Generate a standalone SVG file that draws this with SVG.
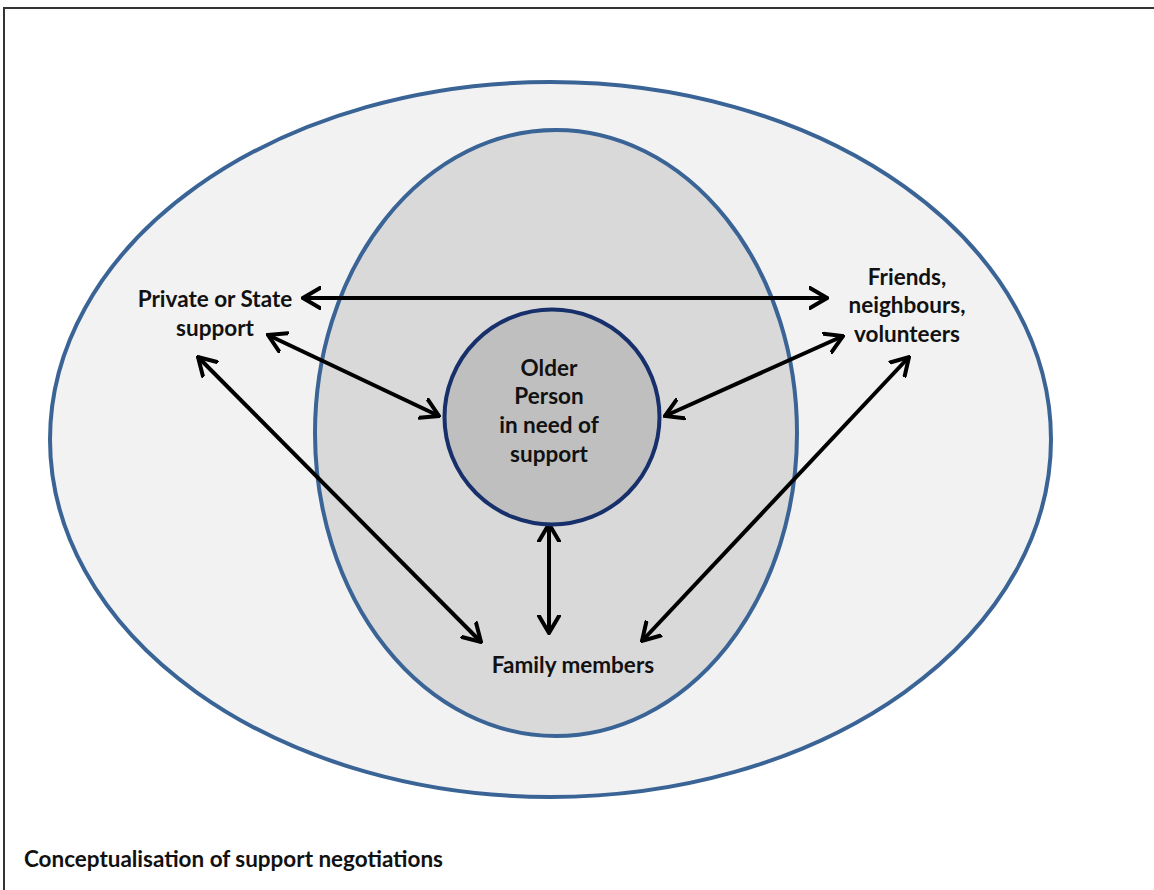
<svg xmlns="http://www.w3.org/2000/svg" width="1154" height="890" viewBox="0 0 1154 890">
  <style>
    .label { font-family: Lato, "Liberation Sans", sans-serif; font-weight: bold; font-size: 22.5px; fill: #111111; text-anchor: middle; }
    .caption { font-family: Lato, "Liberation Sans", sans-serif; font-weight: bold; font-size: 22.5px; fill: #111111; }
    .ring { stroke: #3a6496; stroke-width: 4; }
    .link { stroke: #000000; stroke-width: 4; fill: none; marker-start: url(#chev); marker-end: url(#chev); }
  </style>
  <defs>
    <marker id="chev" viewBox="0 0 20 24" refX="18" refY="12" markerWidth="20" markerHeight="24" markerUnits="userSpaceOnUse" orient="auto-start-reverse">
      <path d="M1,2 L18,12 L1,22" fill="none" stroke="#000000" stroke-width="4" stroke-linecap="round" stroke-linejoin="miter"/>
    </marker>
  </defs>

  <rect width="1154" height="890" fill="#ffffff"/>
  <!-- page frame (top and left edges) -->
  <path d="M4,890 V8 H1154" fill="none" stroke="#333333" stroke-width="2"/>

  <!-- wider community -->
  <g id="outer-ring">
    <ellipse class="ring" cx="550.5" cy="439.5" rx="500.5" ry="357.5" fill="#f2f2f2"/>
  </g>
  <!-- close network -->
  <g id="middle-ring">
    <ellipse class="ring" cx="556" cy="433" rx="241" ry="303" fill="#d9d9d9"/>
  </g>

  <g id="connectors">
    <line class="link" x1="303" y1="298" x2="827" y2="298"/>
    <line class="link" x1="268" y1="335" x2="439" y2="416"/>
    <line class="link" x1="198" y1="357" x2="481" y2="642"/>
    <line class="link" x1="843" y1="336" x2="665" y2="416"/>
    <line class="link" x1="909" y1="357" x2="642" y2="641"/>
    <line class="link" x1="549" y1="524" x2="549" y2="633"/>
  </g>

  <g id="older-person">
    <circle cx="552" cy="417" r="107.5" fill="#bfbfbf" stroke="#172f6a" stroke-width="4"/>
    <text class="label" x="549" y="376">Older</text>
    <text class="label" x="549" y="404">Person</text>
    <text class="label" x="549" y="433">in need of</text>
    <text class="label" x="549" y="462">support</text>
  </g>

  <g id="private-state">
    <text class="label" x="215" y="307">Private or State</text>
    <text class="label" x="215" y="336">support</text>
  </g>

  <g id="friends">
    <text class="label" x="907" y="285">Friends,</text>
    <text class="label" x="907" y="313">neighbours,</text>
    <text class="label" x="907" y="342">volunteers</text>
  </g>

  <g id="family">
    <text class="label" x="573" y="673">Family members</text>
  </g>

  <text class="caption" x="24" y="867" textLength="419" lengthAdjust="spacingAndGlyphs">Conceptualisation of support negotiations</text>
</svg>
